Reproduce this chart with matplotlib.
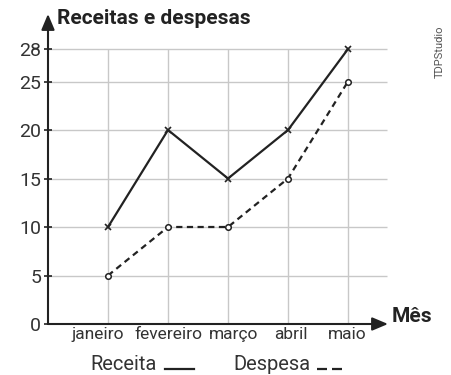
import numpy as np
import matplotlib
matplotlib.use('Agg')
from matplotlib import pyplot as plt
from matplotlib.transforms import ScaledTranslation

meses = ['janeiro', 'fevereiro', 'março', 'abril', 'maio']
receita = [10, 20, 15, 20, 28]
despesa = [5, 10, 10, 15, 25]
y_ticks = [0, 5, 10, 15, 20, 25, 28]

plt.rcParams['font.family'] = ['Roboto', 'DejaVu Sans']
ink = '#222222'
grid_c = '#c8c8c8'

# top of the y axis is stretched a bit above 25
k = 1.117


def fwd(v):
    v = np.asarray(v, dtype=float)
    return np.where(v <= 25, v, 25 + (v - 25) * k)


def inv(v):
    v = np.asarray(v, dtype=float)
    return np.where(v <= 25, v, 25 + (v - 25) / k)


fig = plt.figure(figsize=(4.52, 3.75), dpi=100)
ax = fig.add_axes([48 / 452, 51 / 375, 340 / 452, 310 / 375])
ax.set_yscale('function', functions=(fwd, inv))
ax.set_xlim(0, 340 / 60)
ax.set_ylim(0, 31.23)

x = np.arange(1, len(meses) + 1)

# grid
ax.hlines(y_ticks[1:], 0, 5.65, color=grid_c, lw=1, zorder=1)
ax.vlines(x, 0, max(y_ticks), color=grid_c, lw=1, zorder=1)

ax.plot(x, receita, color=ink, lw=1.6, marker='x', ms=4, mew=1.2, zorder=3)
ax.plot(x, despesa, color=ink, lw=1.6, ls=(0, (2.8, 2.0)), marker='o', ms=4,
        mfc='white', mec=ink, mew=1.1, zorder=3)

for s in ax.spines.values():
    s.set_visible(False)

# axes with arrow heads
arrow = dict(arrowstyle='-|>,head_length=0.95,head_width=0.4', color=ink, lw=1.5,
             shrinkA=0, shrinkB=0)
ax.annotate('', xy=(0, 1), xytext=(0, 0), xycoords='axes fraction', arrowprops=arrow, zorder=4)
ax.annotate('', xy=(1, 0), xytext=(0, 0), xycoords='axes fraction', arrowprops=arrow, zorder=4)

ax.set_yticks(y_ticks)
ax.set_yticklabels([str(v) for v in y_ticks])
ax.tick_params(axis='y', direction='inout', length=6, width=1.2, color=ink,
               labelsize=14, labelcolor='#333333', pad=2)
ax.set_xticks(x)
ax.set_xticklabels(meses)
ax.tick_params(axis='x', length=0, labelsize=12.5, labelcolor='#333333', pad=2)

# nudge month labels so they don't run into each other
nudge_px = [-10, 0, 6, 3, -1]
for lab, dx in zip(ax.get_xticklabels(), nudge_px):
    lab.set_transform(lab.get_transform() + ScaledTranslation(dx / 100, 0, fig.dpi_scale_trans))

fig.text(57 / 452, 1 - 18 / 375, 'Receitas e despesas', fontsize=15, fontweight='bold',
         color=ink, va='center', ha='left')
fig.text(392 / 452, 1 - 316 / 375, 'Mês', fontsize=15, fontweight='bold',
         color=ink, va='center', ha='left')
fig.text(440 / 452, 1 - 52 / 375, 'TDPStudio', fontsize=8, rotation=90,
         color='#555555', va='center', ha='center')

# legend
fig.text(90 / 452, 1 - 365 / 375, 'Receita', fontsize=14.5, color='#333333',
         va='center', ha='left')
fig.add_artist(plt.Line2D([165 / 452, 194 / 452], [1 - 369 / 375] * 2, color=ink, lw=1.6))
fig.text(233 / 452, 1 - 365 / 375, 'Despesa', fontsize=14.5, color='#333333',
         va='center', ha='left')
fig.add_artist(plt.Line2D([317 / 452, 343 / 452], [1 - 369 / 375] * 2, color=ink, lw=1.6,
                          ls=(0, (4.5, 2.25))))

fig.savefig('out.png', dpi=100)
